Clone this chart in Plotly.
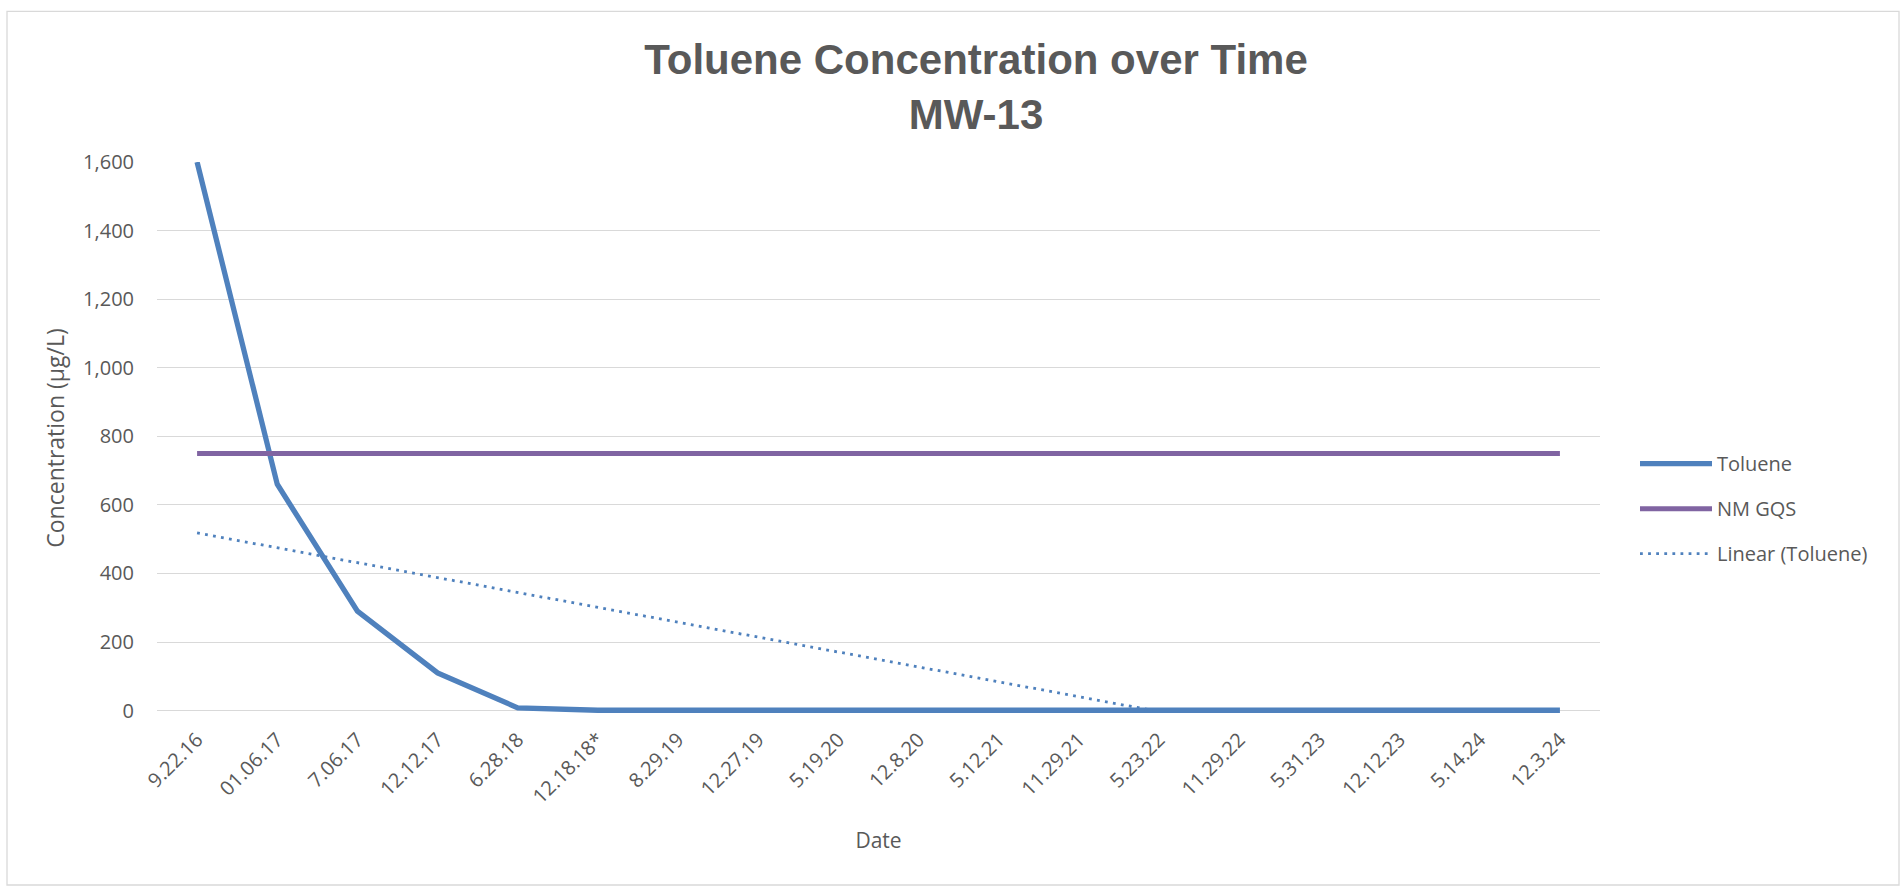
import numpy as np
import plotly.graph_objects as go

# ---- data ----
dates = ["9.22.16", "01.06.17", "7.06.17", "12.12.17", "6.28.18", "12.18.18*",
         "8.29.19", "12.27.19", "5.19.20", "12.8.20", "5.12.21", "11.29.21",
         "5.23.22", "11.29.22", "5.31.23", "12.12.23", "5.14.24", "12.3.24"]
toluene = [1600, 660, 290, 110, 8, 1, 1, 1.5, 1.5, 1, 1, 1, 1, 1, 1, 1, 1, 1]
nm_gqs = [750, 750, 750, 750, 750, 750, 750, 750, 750,
          750, 750, 750, 750, 750, 750, 750, 750, 750]
y_ticks = [0, 200, 400, 600, 800, 1000, 1200, 1400, 1600]

# category positions on the x axis
pos = np.arange(len(dates))

# Excel-style linear trendline (least squares), drawn down to where it reaches 0
slope, intercept = np.polyfit(pos, np.array(toluene, dtype=float), 1)
x_zero = -intercept / slope
trend_x = [float(p) for p in pos if p < x_zero] + [float(x_zero)]
trend_y = [float(slope * p + intercept) for p in pos if p < x_zero] + [0.0]

# ---- layout geometry (pixels) ----
W, H = 1904, 888
L, R = 157, 1600
Y_MIN, Y_MAX = -10, 1600
PX_PER_UNIT = 68.6 / 200
T = 161.7
B = T + (Y_MAX - Y_MIN) * PX_PER_UNIT


def px(xp):
    return (xp - L) / (R - L)


def py(yp):
    return (B - yp) / (B - T)


BLUE = "#4f81bd"
PURPLE = "#8064a2"
GREY_TXT = "#595959"
GRID = "#d9d9d9"
FONT = "Open Sans"

fig = go.Figure()
fig.add_trace(go.Scatter(x=pos, y=toluene, mode="lines", name="Toluene",
                         line=dict(color=BLUE, width=5.3), legendgroup="a"))
fig.add_trace(go.Scatter(x=pos, y=nm_gqs, mode="lines", name="NM GQS",
                         line=dict(color=PURPLE, width=5), legendgroup="b"))
fig.add_trace(go.Scatter(x=trend_x, y=trend_y, mode="lines", name="Linear (Toluene)",
                         line=dict(color=BLUE, width=2.8, dash="2.8px,5.3px"),
                         legendgroup="c"))

fig.update_layout(
    width=W, height=H,
    margin=dict(l=L, r=W - R, t=T, b=H - B, pad=0),
    paper_bgcolor="white", plot_bgcolor="white",
    font=dict(family=FONT, color=GREY_TXT, size=20),
    title=dict(text="Toluene Concentration over Time<br>MW-13",
               x=976 / W, xanchor="center", xref="container",
               y=1 - 74 / H, yanchor="middle", yref="container",
               font=dict(family="Liberation Sans", size=42, color=GREY_TXT,
                         weight="bold")),
    showlegend=True,
    legend=dict(x=px(1635), xanchor="left", y=py(444), yanchor="top",
                font=dict(family=FONT, size=20, color=GREY_TXT),
                tracegroupgap=16, itemwidth=72, bgcolor="rgba(0,0,0,0)"),
    xaxis=dict(range=[-0.5, len(dates) - 0.5], tickvals=pos, ticktext=dates,
               tickangle=-45, showgrid=False, showline=False,
               zeroline=False, ticks="", tickfont=dict(size=20, color=GREY_TXT),
               ticklabelstandoff=9,
               title=dict(text="Date", font=dict(size=21, color=GREY_TXT), standoff=25),
               automargin=False),
    yaxis=dict(range=[Y_MIN, Y_MAX], tickvals=y_ticks, tickformat=",d",
               showgrid=True, gridcolor=GRID, gridwidth=1.3,
               zeroline=False, showline=False, ticks="",
               tickfont=dict(size=20, color=GREY_TXT), ticklabelstandoff=22,
               title=dict(text="Concentration (µg/L)", font=dict(size=23, color=GREY_TXT),
                          standoff=12),
               automargin=False),
    shapes=[dict(type="rect", xref="paper", yref="paper",
                 x0=px(7), x1=px(1899), y0=py(885), y1=py(11),
                 line=dict(color=GRID, width=1.3), fillcolor="rgba(0,0,0,0)",
                 layer="below")],
)

fig.write_html("out.html", config={"displayModeBar": False},
               post_script="document.body.style.margin='0';")
